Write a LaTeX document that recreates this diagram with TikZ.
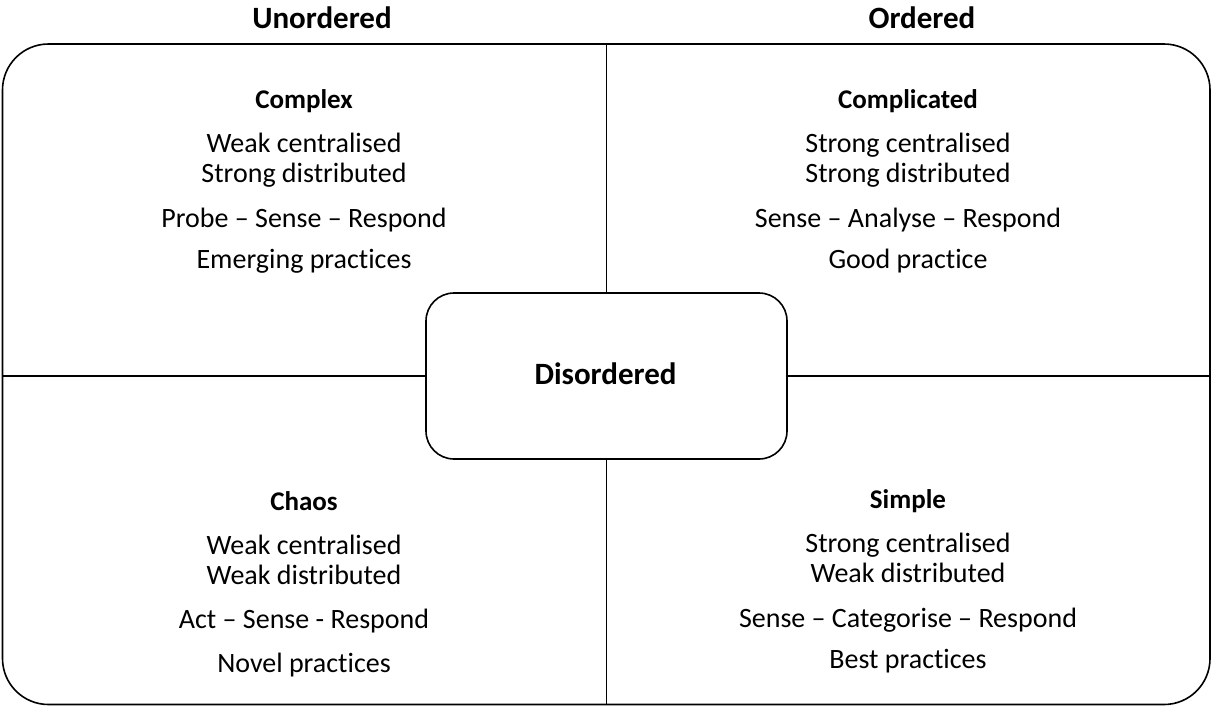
\documentclass[tikz,border=0pt]{standalone}
\usepackage{fontspec}
\setmainfont[Ligatures={NoCommon}]{Carlito}
\begin{document}
\begin{tikzpicture}[x=1pt,y=-1pt,
  line width=1.6pt,
  body/.style={font=\fontsize{28}{30}\selectfont, anchor=base, inner sep=0pt},
  head/.style={font=\fontsize{27}{30}\selectfont\bfseries, anchor=base, inner sep=0pt},
  axis/.style={font=\fontsize{31}{34}\selectfont\bfseries, anchor=base, inner sep=0pt}]
\useasboundingbox (0,0) rectangle (1212,707);

% outer frame and central domain
\node[draw, rounded corners=46pt, minimum width=1207.5pt, minimum height=660.5pt, inner sep=0pt] (frame) at (606.25,374.25) {};
\node[draw, rounded corners=28pt, minimum width=361pt, minimum height=166pt, inner sep=0pt] (dis) at (606.5,376) {};
\node[font=\fontsize{31}{34}\selectfont\bfseries, anchor=base, inner sep=0pt] (distxt) at (605.5,384) {Disordered};

% quadrant dividers
\draw (frame.north -| dis.north) -- (dis.north);
\draw (dis.south) -- (frame.south -| dis.south);
\draw (frame.west |- dis.west) -- (dis.west);
\draw (dis.east) -- (frame.east |- dis.east);

% axis labels
\node[axis] (unord) at (322,28) {Unordered};
\node[axis] (ord) at (922,28) {Ordered};

% Complex
\node[head] (cx) at (304,108) {Complex};
\node[body] (cx1) at (304,152) {Weak centralised};
\node[body] (cx1b) at (304,182) {Strong distributed};
\node[body] (cx2) at (304,227) {Probe – Sense – Respond};
\node[body] (cx3) at (304,268) {Emerging practices};

% Complicated
\node[head] (cd) at (908,108) {Complicated};
\node[body] (cd1) at (908,152) {Strong centralised};
\node[body] (cd1b) at (908,182) {Strong distributed};
\node[body] (cd2) at (908,227) {Sense – Analyse – Respond};
\node[body] (cd3) at (908,268) {Good practice};

% Chaos
\node[head] (ch) at (304,510) {Chaos};
\node[body] (ch1) at (304,554) {Weak centralised};
\node[body] (ch1b) at (304,584) {Weak distributed};
\node[body] (ch2) at (304,628) {Act – Sense - Respond};
\node[body] (ch3) at (304,672) {Novel practices};

% Simple
\node[head] (sp) at (908,508) {Simple};
\node[body] (sp1) at (908,552) {Strong centralised};
\node[body] (sp1b) at (908,582) {Weak distributed};
\node[body] (sp2) at (908,627) {Sense – Categorise – Respond};
\node[body] (sp3) at (908,668) {Best practices};
\end{tikzpicture}
\end{document}
